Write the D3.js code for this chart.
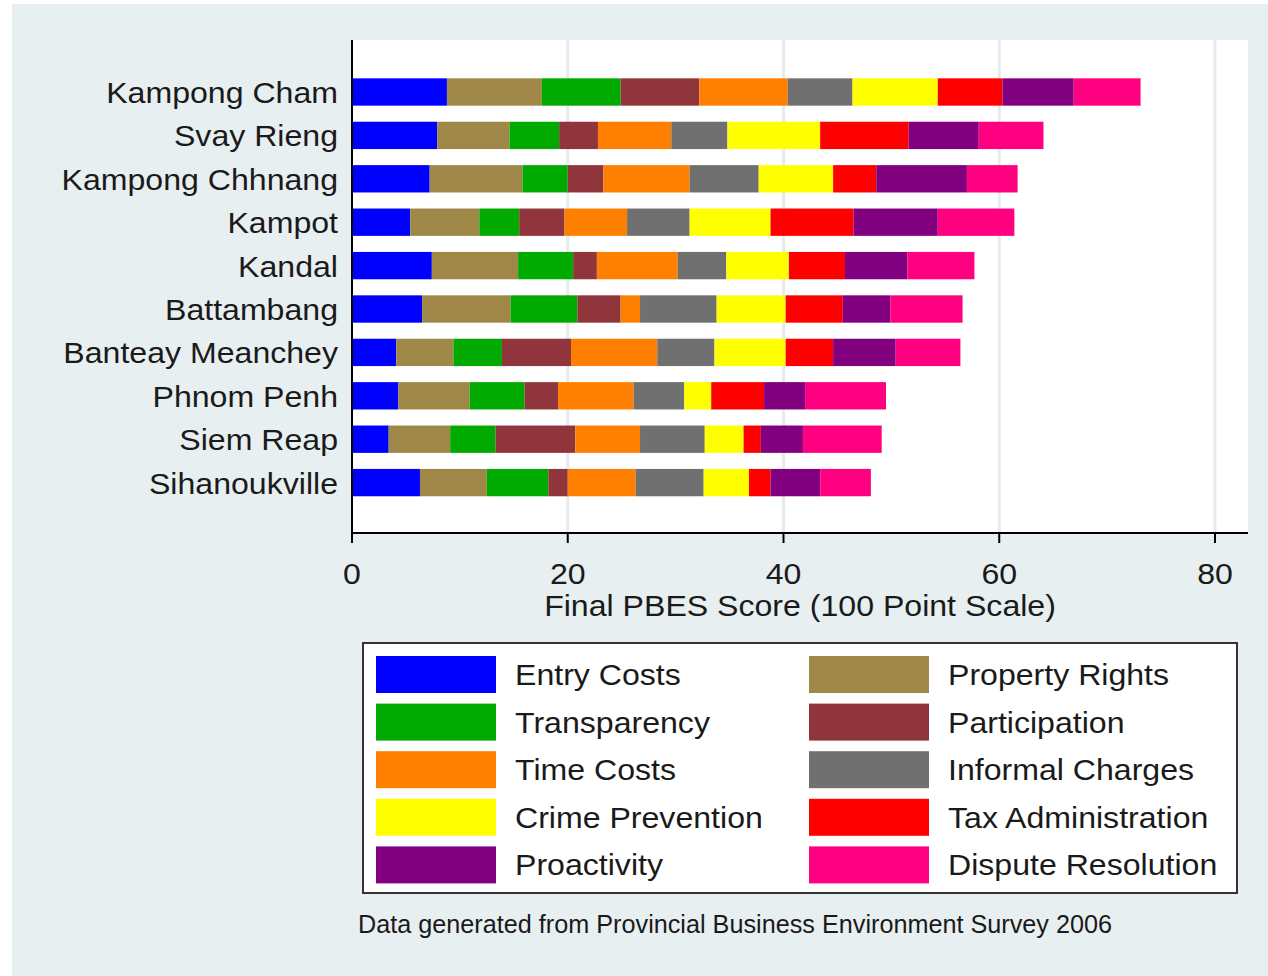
<!DOCTYPE html>
<html>
<head>
<meta charset="utf-8">
<script src="https://cdn.jsdelivr.net/npm/d3@7"></script>
<style>
    body { margin: 0; background: #ffffff; }
    text { font-family: "Liberation Sans", Arial, sans-serif; fill: #1a1a1a; }
</style>
</head>
<body>
<div class="chart"></div>
<script>
// provinces, top to bottom
var provinces = ["Kampong Cham", "Svay Rieng", "Kampong Chhnang", "Kampot", "Kandal",
    "Battambang", "Banteay Meanchey", "Phnom Penh", "Siem Reap", "Sihanoukville"];

var categories = ["Entry Costs", "Property Rights", "Transparency", "Participation", "Time Costs",
    "Informal Charges", "Crime Prevention", "Tax Administration", "Proactivity", "Dispute Resolution"];

var colors = ["#0000ff", "#9f8847", "#00aa00", "#90353b", "#ff8000",
    "#707070", "#ffff00", "#ff0000", "#800080", "#ff0080"];

// sub-index scores, same order as provinces
var entryCosts        = [8.8, 7.9, 7.2, 5.4, 7.4, 6.5, 4.1, 4.3, 3.4, 6.3];
var propertyRights    = [8.8, 6.7, 8.6, 6.4, 8.0, 8.2, 5.3, 6.6, 5.7, 6.2];
var transparency      = [7.3, 4.6, 4.2, 3.7, 5.1, 6.2, 4.5, 5.1, 4.2, 5.7];
var participation     = [7.3, 3.6, 3.3, 4.2, 2.2, 4.0, 6.4, 3.1, 7.4, 1.8];
var timeCosts         = [8.2, 6.8, 8.0, 5.8, 7.5, 1.8, 8.0, 7.0, 6.0, 6.3];
var informalCharges   = [6.0, 5.2, 6.4, 5.8, 4.5, 7.1, 5.3, 4.7, 6.0, 6.3];
var crimePrevention   = [7.9, 8.6, 6.9, 7.5, 5.8, 6.4, 6.6, 2.5, 3.6, 4.2];
var taxAdministration = [6.0, 8.2, 4.0, 7.7, 5.2, 5.3, 4.4, 4.9, 1.6, 2.0];
var proactivity       = [6.6, 6.5, 8.4, 7.8, 5.8, 4.4, 5.8, 3.8, 3.9, 4.6];
var disputeResolution = [6.2, 6.0, 4.7, 7.1, 6.2, 6.7, 6.0, 7.5, 7.3, 4.7];

var xTicks = [0, 20, 40, 60, 80];
var xTitle = "Final PBES Score (100 Point Scale)";
var note = "Data generated from Provincial Business Environment Survey 2006";

var series = [entryCosts, propertyRights, transparency, participation, timeCosts,
    informalCharges, crimePrevention, taxAdministration, proactivity, disputeResolution];

// build rows for d3.stack
var rows = provinces.map(function(p, i) {
    var row = { province: p };
    categories.forEach(function(c, j) {
        row[c] = series[j][i];
    });
    return row;
});

var width = 1268, height = 976;
var plot = { left: 352, top: 40, right: 1248, bottom: 533 };

var svg = d3.select(".chart")
    .append("svg")
    .attr("width", width)
    .attr("height", height);

// outer background
svg.append("rect")
    .attr("x", 12).attr("y", 4)
    .attr("width", width - 12).attr("height", height - 4)
    .attr("fill", "#e8eff1");

svg.append("rect")
    .attr("x", plot.left).attr("y", plot.top)
    .attr("width", plot.right - plot.left).attr("height", plot.bottom - plot.top)
    .attr("fill", "#ffffff");

var x = d3.scaleLinear()
    .domain([0, 80])
    .range([plot.left, 1215]);

var y = d3.scaleBand()
    .domain(provinces)
    .range([70.3, 504.3])
    .paddingInner(0.37)
    .paddingOuter(0.185);

// stretched text, like the original export
var label = function(sel, px, py, anchor, size, str) {
    return sel.append("text")
        .attr("transform", "translate(" + px + "," + py + ") scale(1.07,1)")
        .attr("text-anchor", anchor)
        .style("font-size", size + "px")
        .text(str);
};

// gridlines
svg.append("g")
    .selectAll("line")
    .data(xTicks.filter(function(d) { return d > 0; }))
    .enter().append("line")
    .attr("x1", function(d) { return x(d); })
    .attr("x2", function(d) { return x(d); })
    .attr("y1", plot.top)
    .attr("y2", plot.bottom)
    .attr("stroke", "#e4ecee")
    .attr("stroke-width", 3);

var stack = d3.stack().keys(categories);
var layers = stack(rows);

svg.append("g")
    .selectAll("g")
    .data(layers)
    .enter().append("g")
    .attr("fill", function(d, i) { return colors[i]; })
    .selectAll("rect")
    .data(function(d) { return d; })
    .enter().append("rect")
    .attr("x", function(d) { return x(d[0]); })
    .attr("y", function(d) { return y(d.data.province); })
    .attr("width", function(d) { return x(d[1]) - x(d[0]); })
    .attr("height", y.bandwidth());

// axes
svg.append("line")
    .attr("x1", plot.left).attr("x2", plot.left)
    .attr("y1", plot.top).attr("y2", plot.bottom)
    .attr("stroke", "#000").attr("stroke-width", 2);

svg.append("line")
    .attr("x1", plot.left - 1).attr("x2", plot.right)
    .attr("y1", plot.bottom).attr("y2", plot.bottom)
    .attr("stroke", "#000").attr("stroke-width", 2);

svg.append("g")
    .selectAll("line")
    .data(xTicks)
    .enter().append("line")
    .attr("x1", function(d) { return x(d); })
    .attr("x2", function(d) { return x(d); })
    .attr("y1", plot.bottom)
    .attr("y2", plot.bottom + 10)
    .attr("stroke", "#000").attr("stroke-width", 2);

xTicks.forEach(function(t) {
    label(svg, x(t), 584, "middle", 30, t);
});

label(svg, 800, 616, "middle", 30, xTitle);

provinces.forEach(function(p) {
    label(svg, 338, y(p) + y.bandwidth() / 2 + 11, "end", 30, p);
});

// legend
var legend = { left: 363, top: 643, right: 1237, bottom: 893 };
svg.append("rect")
    .attr("x", legend.left).attr("y", legend.top)
    .attr("width", legend.right - legend.left)
    .attr("height", legend.bottom - legend.top)
    .attr("fill", "#ffffff")
    .attr("stroke", "#333")
    .attr("stroke-width", 2);

categories.forEach(function(c, i) {
    var col = i % 2;
    var row = Math.floor(i / 2);
    var sx = col === 0 ? 376 : 809;
    var sy = 656 + row * 47.6;
    svg.append("rect")
        .attr("x", sx).attr("y", sy)
        .attr("width", 120).attr("height", 37)
        .attr("fill", colors[i]);
    label(svg, sx + 139, sy + 29, "start", 30, c);
});

svg.append("text")
    .attr("transform", "translate(358,933) scale(0.97,1)")
    .style("font-size", "26px")
    .text(note);
</script>
</body>
</html>
